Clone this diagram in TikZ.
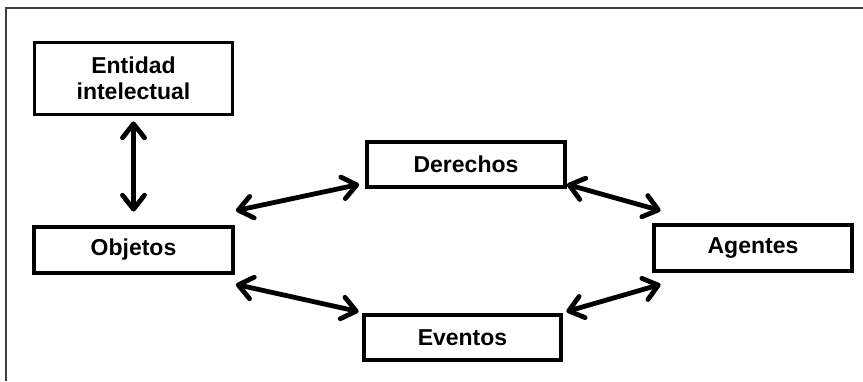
\documentclass[tikz,border=0pt]{standalone}
\usepackage{fontspec}
\setmainfont{Liberation Sans}
\usetikzlibrary{arrows.meta,calc}
\begin{document}
\begin{tikzpicture}[x=1bp,y=-1bp,
  box/.style={draw=black,line width=3.8bp,fill=white,inner sep=0pt,align=center,
    font=\fontsize{23bp}{25.5bp}\selectfont\bfseries},
  link/.style={line width=4.8bp,line cap=round,
    {Straight Barb[length=14bp,width=22bp,round]}-{Straight Barb[length=14bp,width=22bp,round]}}]
\useasboundingbox (0,0) rectangle (863,381);
\fill[white] (0,0) rectangle (863,381);
\draw[draw=black!75,line width=1.2bp] (6,381) -- (6,8) -- (863,8);
\node[box,minimum width=198bp,minimum height=72bp] (ent) at (133.5,78.5) {Entidad\\intelectual};
\node[box,minimum width=199bp,minimum height=46bp] (obj) at (133.5,250) {Objetos};
\node[box,minimum width=198bp,minimum height=45bp] (der) at (466,164.5) {Derechos};
\node[box,minimum width=197bp,minimum height=45bp] (ev) at (462.5,337.5) {Eventos};
\node[box,minimum width=198bp,minimum height=46bp] (ag) at (753,248) {Agentes};
\draw[link] ($(ent.south)+(0,5)$) -- ($(obj.north)+(0,-13.5)$);
\draw[link] ($(obj.north east)+(1,-14.5)$) -- ($(der.south west)+(-6,-4.5)$);
\draw[link] ($(obj.south east)+(1,9.5)$) -- ($(ev.north west)+(-3.5,-1.5)$);
\draw[link] ($(der.south east)+(0,-4.5)$) -- ($(ag.north west)+(8.5,-12.5)$);
\draw[link] ($(ev.north east)+(3.5,-1.5)$) -- ($(ag.south west)+(8.5,11.5)$);
\end{tikzpicture}
\end{document}
